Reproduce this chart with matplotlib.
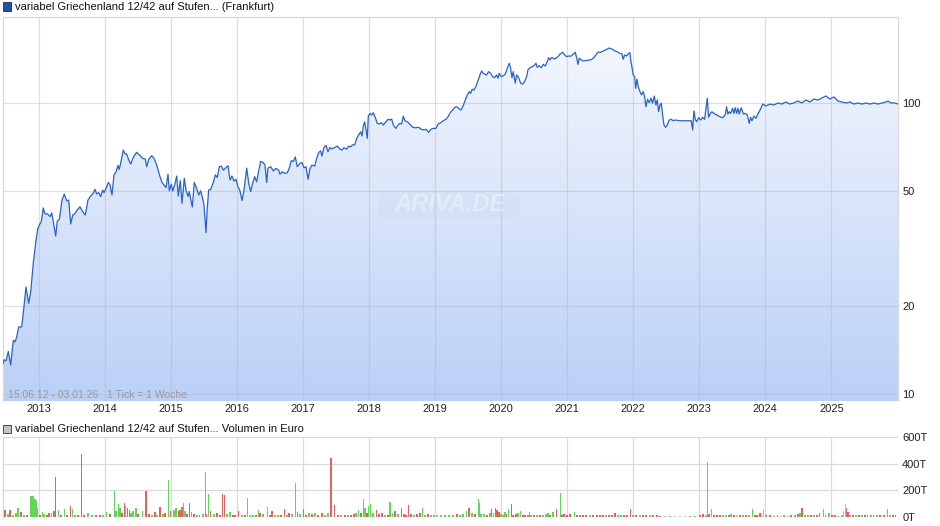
import matplotlib
matplotlib.use('Agg')
import matplotlib.pyplot as plt
import numpy as np
from matplotlib.patches import Rectangle, FancyBboxPatch
from matplotlib.colors import LinearSegmentedColormap
from matplotlib.ticker import NullLocator

plt.rcParams['font.family'] = ['Liberation Sans', 'DejaVu Sans']

# ---------------- data ----------------
price_dates = [
    2012.454, 2012.469, 2012.499, 2012.534, 2012.571, 2012.610, 2012.636, 2012.661, 2012.692, 2012.737,
    2012.772, 2012.802, 2012.843, 2012.874, 2012.913, 2012.954, 2012.980, 2013.004, 2013.034, 2013.064,
    2013.090, 2013.125, 2013.166, 2013.192, 2013.216, 2013.252, 2013.276, 2013.307, 2013.348, 2013.382,
    2013.419, 2013.449, 2013.479, 2013.510, 2013.540, 2013.579, 2013.620, 2013.661, 2013.700, 2013.741,
    2013.782, 2013.822, 2013.847, 2013.873, 2013.903, 2013.934, 2013.964, 2013.984, 2014.014, 2014.049,
    2014.075, 2014.105, 2014.135, 2014.165, 2014.196, 2014.215, 2014.246, 2014.276, 2014.302, 2014.327,
    2014.358, 2014.388, 2014.427, 2014.479, 2014.518, 2014.570, 2014.609, 2014.630, 2014.661, 2014.706,
    2014.741, 2014.782, 2014.832, 2014.862, 2014.892, 2014.923, 2014.953, 2014.973, 2015.003, 2015.024,
    2015.054, 2015.085, 2015.109, 2015.139, 2015.165, 2015.200, 2015.226, 2015.256, 2015.276, 2015.297,
    2015.321, 2015.352, 2015.387, 2015.418, 2015.448, 2015.478, 2015.498, 2015.529, 2015.548, 2015.569,
    2015.600, 2015.639, 2015.669, 2015.700, 2015.730, 2015.760, 2015.790, 2015.821, 2015.862, 2015.893,
    2015.922, 2015.953, 2015.983, 2016.013, 2016.043, 2016.074, 2016.104, 2016.145, 2016.175, 2016.205,
    2016.236, 2016.266, 2016.296, 2016.327, 2016.357, 2016.396, 2016.422, 2016.448, 2016.467, 2016.508,
    2016.548, 2016.589, 2016.629, 2016.649, 2016.680, 2016.720, 2016.760, 2016.790, 2016.820, 2016.851,
    2016.881, 2016.911, 2016.952, 2016.983, 2017.013, 2017.043, 2017.074, 2017.104, 2017.134, 2017.175,
    2017.205, 2017.235, 2017.265, 2017.285, 2017.315, 2017.346, 2017.376, 2017.406, 2017.437, 2017.477,
    2017.517, 2017.558, 2017.588, 2017.618, 2017.659, 2017.689, 2017.720, 2017.750, 2017.780, 2017.811,
    2017.841, 2017.871, 2017.891, 2017.911, 2017.932, 2017.952, 2017.972, 2017.987, 2018.013, 2018.038,
    2018.062, 2018.088, 2018.123, 2018.153, 2018.183, 2018.214, 2018.255, 2018.285, 2018.315, 2018.341,
    2018.365, 2018.406, 2018.436, 2018.467, 2018.492, 2018.517, 2018.542, 2018.577, 2018.618, 2018.659,
    2018.698, 2018.750, 2018.789, 2018.830, 2018.860, 2018.901, 2018.932, 2018.971, 2019.012, 2019.042,
    2019.083, 2019.123, 2019.163, 2019.194, 2019.234, 2019.265, 2019.295, 2019.325, 2019.364, 2019.390,
    2019.425, 2019.456, 2019.486, 2019.516, 2019.537, 2019.561, 2019.587, 2019.617, 2019.652, 2019.678,
    2019.703, 2019.727, 2019.753, 2019.779, 2019.809, 2019.839, 2019.870, 2019.900, 2019.931, 2019.951,
    2019.970, 2020.001, 2020.031, 2020.061, 2020.092, 2020.122, 2020.143, 2020.163, 2020.183, 2020.213,
    2020.234, 2020.264, 2020.295, 2020.325, 2020.355, 2020.385, 2020.405, 2020.435, 2020.466, 2020.496,
    2020.526, 2020.546, 2020.576, 2020.607, 2020.637, 2020.667, 2020.698, 2020.719, 2020.738, 2020.769,
    2020.799, 2020.829, 2020.860, 2020.890, 2020.931, 2020.961, 2020.991, 2021.021, 2021.052, 2021.091,
    2021.121, 2021.143, 2021.162, 2021.182, 2021.212, 2021.243, 2021.284, 2021.325, 2021.364, 2021.404,
    2021.435, 2021.465, 2021.506, 2021.546, 2021.597, 2021.636, 2021.677, 2021.717, 2021.757, 2021.797,
    2021.828, 2021.848, 2021.869, 2021.899, 2021.930, 2021.949, 2021.965, 2021.980, 2021.999, 2022.021,
    2022.036, 2022.056, 2022.075, 2022.101, 2022.127, 2022.151, 2022.172, 2022.192, 2022.217, 2022.242,
    2022.268, 2022.293, 2022.318, 2022.343, 2022.363, 2022.384, 2022.404, 2022.424, 2022.445, 2022.465,
    2022.490, 2022.514, 2022.545, 2022.575, 2022.605, 2022.636, 2022.707, 2022.809, 2022.878, 2022.899,
    2022.919, 2022.939, 2022.960, 2022.990, 2023.021, 2023.051, 2023.081, 2023.101, 2023.121, 2023.142,
    2023.162, 2023.192, 2023.222, 2023.263, 2023.313, 2023.354, 2023.393, 2023.414, 2023.433, 2023.453,
    2023.475, 2023.505, 2023.525, 2023.545, 2023.566, 2023.586, 2023.605, 2023.636, 2023.666, 2023.696,
    2023.727, 2023.757, 2023.778, 2023.798, 2023.828, 2023.858, 2023.888, 2023.908, 2023.962, 2024.008,
    2024.069, 2024.129, 2024.190, 2024.250, 2024.311, 2024.371, 2024.432, 2024.492, 2024.553, 2024.615,
    2024.676, 2024.736, 2024.797, 2024.857, 2024.918, 2024.979, 2025.039, 2025.100, 2025.161, 2025.221,
    2025.282, 2025.343, 2025.403, 2025.464, 2025.524, 2025.585, 2025.646, 2025.706, 2025.767, 2025.827,
    2025.858, 2025.903, 2025.964, 2026.009,
]
price_values = [
    12.7, 13.1, 13.0, 14.0, 12.6, 15.3, 15.1, 15.7, 17.0, 17.0,
    20.0, 23.3, 20.5, 22.5, 28.2, 33.8, 36.9, 38.1, 39.1, 43.6,
    41.6, 41.6, 40.7, 41.9, 39.1, 34.9, 39.3, 39.8, 46.4, 48.6,
    46.1, 46.4, 38.4, 41.2, 41.6, 42.9, 44.0, 42.3, 41.2, 46.4,
    47.9, 49.0, 50.5, 48.7, 49.2, 47.7, 50.2, 49.2, 50.9, 53.3,
    52.3, 48.3, 56.6, 57.9, 61.0, 59.1, 63.7, 68.9, 66.8, 66.8,
    63.7, 61.7, 65.0, 67.7, 66.3, 64.5, 64.2, 60.4, 64.0, 65.9,
    64.5, 61.2, 55.8, 53.3, 52.3, 51.2, 56.9, 49.9, 52.6, 49.8,
    52.3, 56.1, 47.9, 54.1, 45.2, 55.1, 50.2, 47.7, 49.6, 46.7,
    43.9, 53.3, 50.9, 48.3, 49.9, 47.0, 44.6, 35.9, 43.5, 50.2,
    50.5, 53.3, 56.6, 55.5, 60.4, 60.7, 58.8, 59.7, 60.9, 54.4,
    56.1, 53.9, 54.7, 51.6, 49.9, 46.2, 50.2, 59.7, 53.2, 49.6,
    53.1, 55.8, 53.6, 58.5, 63.0, 62.4, 61.2, 53.3, 59.7, 60.4,
    58.4, 59.6, 58.8, 56.9, 58.0, 57.3, 57.6, 59.7, 63.4, 62.9,
    65.3, 60.4, 62.0, 62.4, 59.9, 60.4, 54.7, 59.6, 61.2, 60.7,
    64.5, 67.5, 68.5, 65.7, 70.3, 71.5, 68.0, 70.3, 69.5, 70.3,
    71.1, 69.4, 68.9, 70.2, 69.4, 71.1, 70.7, 71.9, 71.7, 75.6,
    77.6, 79.7, 77.0, 83.3, 86.2, 80.8, 75.6, 90.2, 92.1, 90.9,
    92.6, 89.7, 85.1, 84.7, 85.6, 84.0, 86.2, 87.9, 87.4, 88.1,
    84.0, 81.8, 84.0, 85.1, 84.7, 90.2, 86.9, 86.2, 84.5, 82.5,
    82.2, 82.5, 81.2, 80.8, 81.2, 79.3, 81.2, 81.8, 81.8, 84.5,
    85.6, 86.9, 87.9, 89.7, 93.1, 94.6, 96.6, 97.1, 95.4, 94.6,
    97.9, 102.4, 106.6, 109.4, 108.0, 111.5, 110.8, 113.9, 120.0, 124.9,
    128.9, 126.5, 125.5, 124.9, 128.2, 126.5, 123.1, 122.2, 124.9, 121.6,
    126.5, 123.1, 124.0, 125.5, 131.6, 136.9, 131.6, 122.2, 128.2, 117.0,
    124.9, 122.2, 117.0, 116.1, 118.5, 123.1, 129.9, 132.2, 133.3, 134.3,
    136.9, 132.6, 134.3, 132.2, 135.8, 134.0, 138.7, 143.2, 140.6, 143.6,
    141.7, 142.5, 144.3, 147.1, 149.4, 146.2, 144.3, 145.1, 144.7, 147.1,
    149.4, 143.1, 135.8, 142.5, 140.6, 139.5, 139.8, 140.3, 140.9, 143.2,
    146.2, 149.4, 149.4, 150.9, 152.9, 154.5, 153.3, 151.2, 150.0, 148.1,
    147.4, 141.3, 146.2, 145.1, 148.1, 148.9, 138.7, 133.3, 124.9, 123.1,
    112.3, 120.7, 113.9, 109.4, 106.6, 109.4, 105.2, 97.1, 103.0, 100.2,
    103.9, 99.8, 105.7, 98.4, 102.4, 93.3, 98.4, 99.8, 91.0, 84.0,
    82.5, 84.0, 87.4, 87.9, 86.9, 87.4, 86.9, 86.9, 86.9, 80.8,
    94.0, 87.9, 86.2, 89.0, 87.4, 89.3, 87.9, 95.9, 103.9, 89.3,
    91.7, 93.3, 92.1, 91.0, 89.7, 89.0, 91.0, 97.1, 91.7, 93.3,
    92.1, 95.9, 92.1, 96.3, 92.1, 95.9, 91.7, 96.3, 91.7, 92.1,
    91.0, 85.1, 89.3, 86.9, 90.2, 88.6, 91.7, 93.3, 99.2, 97.7,
    99.2, 98.4, 100.0, 99.2, 100.8, 99.2, 100.0, 101.6, 100.0, 102.4,
    100.8, 103.2, 102.4, 104.0, 105.7, 103.2, 104.9, 101.6, 100.8, 100.0,
    100.8, 99.2, 100.0, 99.2, 100.0, 99.2, 100.0, 99.2, 100.0, 100.8,
    101.6, 100.0, 100.0, 99.2,
]

vol_dates = [
    2012.484, 2012.530, 2012.560, 2012.605, 2012.651, 2012.681, 2012.727, 2012.772, 2012.817, 2012.878,
    2012.893, 2012.908, 2012.939, 2012.964, 2012.980, 2013.014, 2013.055, 2013.075, 2013.120, 2013.151,
    2013.192, 2013.226, 2013.246, 2013.292, 2013.332, 2013.382, 2013.423, 2013.473, 2013.504, 2013.544,
    2013.590, 2013.640, 2013.681, 2013.741, 2013.802, 2013.862, 2013.923, 2013.968, 2014.025, 2014.075,
    2014.140, 2014.165, 2014.200, 2014.226, 2014.256, 2014.291, 2014.310, 2014.337, 2014.367, 2014.393,
    2014.423, 2014.468, 2014.499, 2014.570, 2014.620, 2014.665, 2014.711, 2014.756, 2014.786, 2014.832,
    2014.877, 2014.907, 2014.957, 2014.994, 2015.044, 2015.074, 2015.109, 2015.135, 2015.165, 2015.185,
    2015.210, 2015.241, 2015.275, 2015.312, 2015.347, 2015.392, 2015.427, 2015.483, 2015.518, 2015.539,
    2015.563, 2015.600, 2015.650, 2015.695, 2015.740, 2015.775, 2015.806, 2015.846, 2015.892, 2015.937,
    2015.968, 2016.024, 2016.074, 2016.119, 2016.154, 2016.195, 2016.240, 2016.286, 2016.321, 2016.346,
    2016.392, 2016.457, 2016.498, 2016.528, 2016.573, 2016.619, 2016.664, 2016.714, 2016.755, 2016.785,
    2016.831, 2016.881, 2016.917, 2016.952, 2017.002, 2017.043, 2017.088, 2017.134, 2017.179, 2017.225,
    2017.285, 2017.331, 2017.376, 2017.422, 2017.472, 2017.528, 2017.573, 2017.634, 2017.679, 2017.724,
    2017.770, 2017.800, 2017.835, 2017.876, 2017.911, 2017.936, 2017.967, 2017.992, 2018.023, 2018.058,
    2018.114, 2018.149, 2018.194, 2018.239, 2018.285, 2018.315, 2018.353, 2018.391, 2018.436, 2018.486,
    2018.527, 2018.557, 2018.592, 2018.633, 2018.679, 2018.724, 2018.769, 2018.804, 2018.845, 2018.891,
    2018.936, 2018.981, 2019.027, 2019.087, 2019.148, 2019.209, 2019.269, 2019.330, 2019.375, 2019.421,
    2019.477, 2019.512, 2019.557, 2019.602, 2019.652, 2019.668, 2019.693, 2019.739, 2019.784, 2019.830,
    2019.855, 2019.882, 2019.916, 2019.936, 2019.966, 2019.996, 2020.027, 2020.057, 2020.079, 2020.113,
    2020.152, 2020.178, 2020.223, 2020.254, 2020.294, 2020.329, 2020.360, 2020.405, 2020.425, 2020.451,
    2020.496, 2020.541, 2020.587, 2020.632, 2020.678, 2020.708, 2020.738, 2020.784, 2020.840, 2020.894,
    2020.920, 2020.950, 2020.996, 2021.041, 2021.106, 2021.147, 2021.193, 2021.238, 2021.284, 2021.344,
    2021.390, 2021.450, 2021.496, 2021.541, 2021.586, 2021.632, 2021.677, 2021.723, 2021.768, 2021.814,
    2021.859, 2021.904, 2021.960, 2021.995, 2022.041, 2022.101, 2022.147, 2022.192, 2022.253, 2022.298,
    2022.359, 2022.404, 2022.480, 2022.556, 2022.631, 2022.707, 2022.783, 2022.859, 2022.934, 2023.010,
    2023.056, 2023.101, 2023.121, 2023.146, 2023.187, 2023.222, 2023.268, 2023.313, 2023.358, 2023.404,
    2023.449, 2023.480, 2023.525, 2023.570, 2023.616, 2023.661, 2023.707, 2023.752, 2023.802, 2023.843,
    2023.873, 2023.919, 2023.941, 2023.968, 2024.010, 2024.070, 2024.131, 2024.191, 2024.237, 2024.282,
    2024.343, 2024.388, 2024.449, 2024.494, 2024.525, 2024.555, 2024.600, 2024.646, 2024.691, 2024.737,
    2024.782, 2024.827, 2024.877, 2024.918, 2024.964, 2025.009, 2025.055, 2025.100, 2025.161, 2025.183,
    2025.211, 2025.232, 2025.252, 2025.282, 2025.327, 2025.373, 2025.418, 2025.464, 2025.509, 2025.554,
    2025.600, 2025.645, 2025.691, 2025.736, 2025.797, 2025.847, 2025.888, 2025.933, 2025.978,
]
vol_values = [
    50, 20, 50, 15, 25, 63, 37, 15, 10, 156,
    60, 156, 133, 121, 63, 10, 37, 20, 15, 25,
    25, 40, 297, 50, 15, 55, 10, 80, 55, 15,
    10, 473, 10, 25, 10, 15, 10, 15, 35, 20,
    196, 40, 96, 63, 30, 101, 80, 63, 50, 25,
    40, 63, 20, 40, 196, 20, 15, 35, 15, 70,
    20, 25, 277, 40, 50, 63, 40, 50, 70, 103,
    40, 20, 103, 35, 20, 15, 10, 20, 337, 20,
    171, 40, 20, 30, 15, 171, 163, 20, 35, 15,
    10, 40, 10, 15, 139, 10, 10, 15, 50, 30,
    20, 70, 15, 45, 10, 10, 15, 55, 15, 25,
    20, 257, 35, 20, 55, 15, 25, 20, 25, 15,
    25, 10, 25, 443, 86, 15, 10, 10, 15, 15,
    20, 25, 50, 25, 131, 63, 30, 78, 93, 30,
    50, 20, 25, 15, 15, 111, 25, 40, 20, 68,
    20, 15, 88, 20, 15, 20, 30, 68, 15, 20,
    15, 15, 10, 15, 10, 15, 10, 20, 15, 20,
    40, 68, 30, 20, 133, 104, 20, 20, 15, 25,
    55, 30, 68, 50, 35, 20, 15, 35, 20, 55,
    96, 15, 20, 30, 40, 15, 15, 10, 35, 10,
    10, 15, 10, 10, 20, 25, 10, 35, 55, 179,
    15, 20, 10, 20, 35, 10, 10, 10, 10, 10,
    10, 10, 15, 10, 10, 15, 10, 25, 10, 10,
    10, 10, 55, 10, 10, 10, 10, 10, 10, 10,
    10, 5, 5, 5, 5, 5, 5, 5, 8, 10,
    20, 15, 413, 20, 60, 15, 10, 15, 10, 15,
    10, 20, 10, 10, 15, 10, 10, 10, 55, 15,
    10, 25, 20, 60, 10, 10, 8, 10, 8, 10,
    8, 10, 10, 20, 25, 62, 10, 15, 10, 15,
    10, 25, 60, 10, 30, 10, 10, 8, 10, 45,
    96, 63, 35, 15, 10, 10, 15, 10, 15, 10,
    10, 10, 10, 10, 15, 60, 15, 10, 15,
]
# g = up week (green), r = down week (red), n = unchanged (grey)
vol_dir = list(
    "rgrgggrgrg" "gggggrggrr" "grrgrgrrgg" "rrrggrrggr" "ggggrrgrrg"
    "ggrgrrgrgr" "grgrggrrrg" "grrgrgrggr" "grgrrrrggr" "rrgrgggrgr"
    "ggrrggrrgr" "ggrgrrgrgr" "rggrrrgrgr" "rggrggrggg" "rrrgrggrgr"
    "rrrrgrrggr" "ggnggggrgg" "grgrggggrg" "rgrrrgggrg" "rrrggrrrgg"
    "rgrgggrgrg" "rrrrgrrrrg" "rrrrgrrrgg" "rrrgrgrrgr" "rrngnnnggr"
    "rggrgrrrgg" "rgrgrgrggr" "rrnngrgrng" "nrgrgrggrg" "rrgggrrggn"
    "nrrgrgrgrg" "grgrrggrr"
)

years = list(range(2013, 2026))
price_ticks = [10, 20, 50, 100]
vol_ticks = [0, 200, 400, 600]
vol_tick_labels = ['0T', '200T', '400T', '600T']
title_main = 'variabel Griechenland 12/42 auf Stufen... (Frankfurt)'
title_vol = 'variabel Griechenland 12/42 auf Stufen... Volumen in Euro'
range_text = '15.06.12 - 03.01.26   1 Tick = 1 Woche'
x_start, x_end = 2012.454, 2026.01
y_low, y_high = 9.46, 197.5

n = len(vol_values)
vol_dir = (vol_dir + ['g'] * n)[:n]

# ---------------- figure ----------------
W, H = 940, 526
fig = plt.figure(figsize=(W / 100, H / 100), dpi=100)


def box(l, t, r, b):
    return [l / W, 1 - b / H, (r - l) / W, (b - t) / H]


ax = fig.add_axes(box(3, 17, 898, 401))
axv = fig.add_axes(box(3, 437.3, 898, 516.7))

# ---- main price panel ----
ax.set_yscale('log')
ax.set_xlim(x_start, x_end)
ax.set_ylim(y_low, y_high)
ax.set_autoscale_on(False)

poly = ax.fill_between(price_dates, price_values, y_low, facecolor='none',
                       edgecolor='none', zorder=1)
grad = np.linspace(0, 1, 256).reshape(-1, 1)
cmap = LinearSegmentedColormap.from_list('fillgrad', ['#bad0f6', '#f7f9fe'])
im = ax.imshow(grad, cmap=cmap, origin='lower', extent=[0, 1, 0, 1],
               transform=ax.transAxes, aspect='auto', zorder=1,
               interpolation='bilinear')
im.set_clip_path(poly.get_paths()[0], transform=ax.transData)
ax.set_xlim(x_start, x_end)
ax.set_ylim(y_low, y_high)

for yv in years:
    ax.axvline(yv, color='#b8b8b8', alpha=0.45, lw=0.9, zorder=2)
for pv in price_ticks:
    ax.axhline(pv, color='#b8b8b8', alpha=0.45, lw=0.9, zorder=2)

ax.plot(price_dates, price_values, color='#2a63c6', lw=0.9, zorder=4,
        solid_joinstyle='round')

ax.set_xticks(years)
ax.set_xticklabels([str(y) for y in years])
ax.yaxis.tick_right()
ax.set_yticks(price_ticks)
ax.set_yticklabels([str(v) for v in price_ticks])
ax.yaxis.set_minor_locator(NullLocator())
ax.tick_params(axis='x', length=0, pad=2, labelsize=8, labelcolor='#222222')
ax.tick_params(axis='y', length=0, pad=3, labelsize=8, labelcolor='#222222')
for side in ['top', 'left', 'right']:
    ax.spines[side].set_color('#d8d8d8')
    ax.spines[side].set_linewidth(0.9)
ax.spines['bottom'].set_visible(False)

ax.text(0.0056, 0.016, range_text, transform=ax.transAxes, fontsize=7.5,
        color='#9a9a9a', va='center', ha='left', zorder=5)

# watermark (faint)
wm = FancyBboxPatch((0.418, 0.475), 0.16, 0.068, transform=ax.transAxes,
                    boxstyle='round,pad=0.0,rounding_size=0.012',
                    facecolor='#c9d6ec', edgecolor='none', alpha=0.22, zorder=3)
ax.add_patch(wm)
ax.text(0.499, 0.512, 'ARIVA.DE', transform=ax.transAxes, fontsize=17,
        fontweight='bold', fontstyle='italic', color='white', alpha=0.35,
        ha='center', va='center', zorder=3)

# ---- volume panel ----
colmap = {'g': '#5fd65a', 'r': '#e06262', 'n': '#bdbdbd'}
axv.set_xlim(x_start, x_end)
axv.set_ylim(0, 600)
for yv in years:
    axv.axvline(yv, color='#dadada', lw=0.9, zorder=1)
for vv in vol_ticks:
    axv.axhline(vv, color='#dadada', lw=0.9, zorder=1)
axv.bar(vol_dates, vol_values, width=0.018, color=[colmap[c] for c in vol_dir],
        zorder=3, linewidth=0, antialiased=False)
axv.yaxis.tick_right()
axv.set_yticks(vol_ticks)
axv.set_yticklabels(vol_tick_labels)
axv.set_xticks([])
axv.tick_params(axis='y', length=0, pad=3, labelsize=8, labelcolor='#222222')
for side in ['top', 'right', 'bottom']:
    axv.spines[side].set_visible(False)
axv.spines['left'].set_color('#d6d6d6')
axv.spines['left'].set_linewidth(0.9)

# ---- headers ----
fig.add_artist(Rectangle((3 / W, 1 - 10.5 / H), 8 / W, 8 / H, transform=fig.transFigure,
                         facecolor='#1f4fb0', edgecolor='#222a44', lw=0.6))
fig.text(15 / W, 1 - 6.5 / H, title_main, fontsize=8, color='#111111',
         va='center', ha='left')
fig.add_artist(Rectangle((3 / W, 1 - 432.5 / H), 8 / W, 8 / H, transform=fig.transFigure,
                         facecolor='#c4c4c4', edgecolor='#333333', lw=0.6))
fig.text(15 / W, 1 - 428.5 / H, title_vol, fontsize=8, color='#111111',
         va='center', ha='left')

fig.savefig('out.png', dpi=100)
